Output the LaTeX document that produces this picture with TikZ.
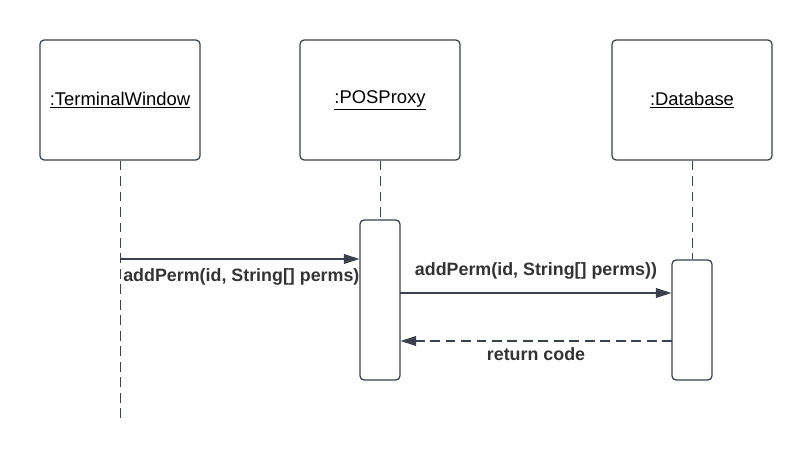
\documentclass[tikz,border=0pt]{standalone}
\usepackage{fontspec}
\setmainfont{Liberation Sans}
\usetikzlibrary{arrows.meta}
\begin{document}
\begin{tikzpicture}[x=0.025cm, y=-0.025cm,
    objbox/.style={draw=linecolor, line width=0.9pt, rounded corners=3pt, minimum width=4cm, minimum height=3cm, inner sep=0pt, font=\fontsize{13.1}{15}\selectfont, text=black},
    actbox/.style={draw=linecolor, line width=0.9pt, rounded corners=3pt, fill=white, minimum width=1cm, inner sep=0pt},
    lifeline/.style={draw=linecolor, line width=0.7pt, dash pattern=on 7pt off 4pt},
    msg/.style={draw=linecolor, line width=0.9pt, -{Triangle[length=11pt, width=7pt]}},
    ret/.style={msg, dash pattern=on 7pt off 4pt},
    msglabel/.style={font=\bfseries\fontsize{12.7}{14}\selectfont, text=textcolor, inner sep=0pt}]
    % Define colors
    \definecolor{linecolor}{RGB}{58, 65, 74}
    \definecolor{textcolor}{RGB}{51, 51, 51}

    \useasboundingbox (0, 0) rectangle (812, 460);

    % Objects
    \node[objbox] (term) at (120, 100) {\underline{:TerminalWindow}};
    \node[objbox] (proxy) at (380, 100) {\underline{:POSProxy}};
    \node[objbox] (db) at (692, 100) {\underline{:Database}};

    % Activation bars
    \node[actbox, minimum height=4cm] (proxyact) at (380, 300) {};
    \node[actbox, minimum height=3cm] (dbact) at (692, 320) {};

    % Lifelines
    \coordinate (termend) at (120, 420);
    \draw[lifeline] (term.south) -- (termend);
    \draw[lifeline] (proxy.south) -- (proxyact.north);
    \draw[lifeline] (db.south) -- (dbact.north);

    % Messages
    \coordinate (call1) at (120, 259);
    \draw[msg] (call1) -- (proxyact.west |- call1);
    \node[msglabel, anchor=north west] (call1lbl) at (123, 268) {addPerm(id, String[] perms)};

    \coordinate (call2) at (400, 293);
    \draw[msg] (call2) -- (dbact.west |- call2);
    \node[msglabel] (call2lbl) at (536, 271) {addPerm(id, String[] perms))};

    \coordinate (back) at (672, 341);
    \draw[ret] (back) -- (proxyact.east |- back);
    \node[msglabel] (backlbl) at (536, 354) {return code};
\end{tikzpicture}
\end{document}
